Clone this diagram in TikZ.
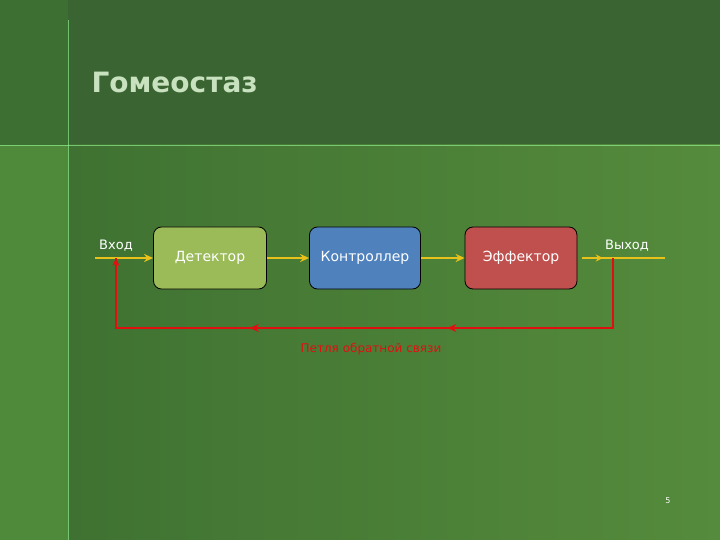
\documentclass[tikz,border=0pt]{standalone}
\usepackage{fontspec}
\setmainfont{DejaVu Sans}
\usetikzlibrary{arrows.meta,decorations.markings}
\definecolor{bgtop}{HTML}{3A6432}
\definecolor{bgA}{HTML}{3F7232}
\definecolor{bgB}{HTML}{558B3C}
\definecolor{strip}{HTML}{4E8A3A}
\definecolor{arr}{HTML}{E8C21A}
\definecolor{fb}{HTML}{E01010}
\tikzset{
  blk/.style={draw=black,line width=0.8pt,rounded corners=8pt,minimum width=113pt,minimum height=62pt,text=white,font=\fontsize{14}{16}\selectfont},
  lbl/.style={text=white,font=\fontsize{13}{15}\selectfont},
  yarr/.style={arr,line width=2pt,-{Stealth[length=9pt,width=8pt]}},
  fbl/.style={fb,line width=2pt}
}
\begin{document}
\begin{tikzpicture}[x=1pt,y=-1pt]
\useasboundingbox (0,0) rectangle (720,540);
\fill[bgtop] (0,0) rectangle (720,145);
\shade[left color=bgA,right color=bgB] (68,145) rectangle (720,540);
\fill[strip] (0,145) rectangle (68,540);
\fill[bgA!80!bgtop] (0,0) rectangle (68,145);
\draw[green!40!white,opacity=0.6,line width=0.8pt] (68,20) -- (68,540);
\draw[green!40!white,opacity=0.6,line width=0.8pt] (0,145) -- (720,145);
\node[anchor=west,text={rgb,255:red,200;green,225;blue,190},font=\bfseries\fontsize{28}{32}\selectfont] (title) at (88,82) {Гомеостаз};
\node[blk,fill={rgb,255:red,155;green,187;blue,89}] (det) at (210,258) {Детектор};
\node[blk,fill={rgb,255:red,79;green,129;blue,189},minimum width=111pt] (con) at (365,258) {Контроллер};
\node[blk,fill={rgb,255:red,192;green,80;blue,77},minimum width=112pt] (eff) at (521,258) {\raisebox{4pt}{Эффектор}};
\node[lbl] (in) at (116,246) {Вход};
\node[lbl] (out) at (627,246) {Выход};
\coordinate (a0) at (95,258);
\coordinate (o1) at (582,258);
\coordinate (o2) at (665,258);
\coordinate (fs) at (613,258);
\coordinate (f1) at (613,328);
\coordinate (f2) at (116,328);
\coordinate (fe) at (116,258);
\draw[yarr] (a0) -- (det.west);
\draw[yarr] (det.east) -- (con.west);
\draw[yarr] (con.east) -- (eff.west);
\draw[arr,line width=2pt,postaction={decorate},decoration={markings,mark=at position 0.25 with {\arrow{Stealth[length=7pt,width=7pt]}}}] (o1) -- (o2);
\draw[fbl,postaction={decorate},decoration={markings,
  mark=at position 0.37 with {\arrow{Stealth[length=9pt,width=8pt]}},
  mark=at position 0.68 with {\arrow{Stealth[length=9pt,width=8pt]}}}]
  (fs) -- (f1) -- (f2) -- (fe);
\draw[fb,line width=2pt,-{Stealth[length=8pt,width=7pt]}] (f2) -- (fe);
\node[text=fb,font=\fontsize{12}{14}\selectfont] (fbt) at (371,349) {Петля обратной связи};
\node[text=white,font=\fontsize{8}{10}\selectfont] (pg) at (668,501) {5};
\end{tikzpicture}
\end{document}
